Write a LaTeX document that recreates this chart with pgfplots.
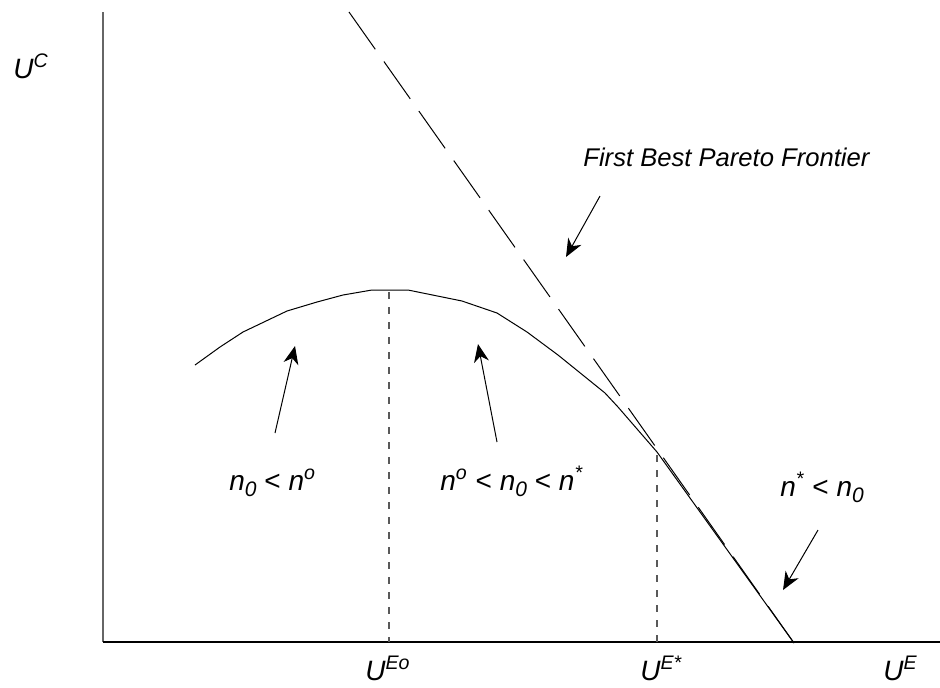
\documentclass[border=0pt]{standalone}
\usepackage{fontspec}
\setmainfont{Liberation Sans}
\usepackage{pgfplots}
\pgfplotsset{compat=1.18}
\usetikzlibrary{arrows.meta}

% lowered, slightly larger subscript for the n_0 labels
\newcommand{\sub}[1]{\raisebox{-0.42ex}{\fontsize{10.5}{12}\selectfont #1}}

\begin{document}
\begin{tikzpicture}[
  lbl/.style={font=\fontsize{14}{16}\selectfont\itshape, anchor=base west, inner sep=0pt},
  pointer/.style={line width=0.5pt, -{Stealth[length=9pt,width=7.5pt,inset=2.8pt]}},
]
\begin{axis}[
  name=pic,
  scale only axis, width=470pt, height=343.5pt,
  xmin=0, xmax=940, ymin=0, ymax=687, y dir=reverse,
  hide axis, clip=false,
]
% axes
\addplot[gray!80!black, line width=0.8pt] coordinates {(103,12) (103,642)};
\addplot[black, line width=0.6pt] coordinates {(103,642) (940,642)};

% first best Pareto frontier
\addplot[black, line width=0.5pt, dash pattern=on 22.8pt off 7.5pt]
  coordinates {(349,12) (794,643)};

% second best frontier
\addplot[black, line width=0.5pt] coordinates {
  (195,365) (220,347) (243,332) (287,311) (317,302) (343,295)
  (372,290) (408,290) (462,301) (497,313) (527,332) (558,355)
  (605,393) (618,407) (657,452) (794,643)};

% reference drops
\addplot[gray!70!black, line width=0.6pt, dash pattern=on 3.5pt off 4pt]
  coordinates {(389,292) (389,642)};
\addplot[gray!70!black, line width=0.6pt, dash pattern=on 3.5pt off 4pt]
  coordinates {(657,455) (657,642)};

% pointers
\addplot[pointer] coordinates {(600,196) (566,257)};
\addplot[pointer] coordinates {(275,433) (295,346)};
\addplot[pointer] coordinates {(497,442) (478,344)};
\addplot[pointer] coordinates {(818,530) (783,590)};

% labels
\node[lbl] at (axis cs:13,78) {U\textsuperscript{C}};
\node[lbl, font=\fontsize{12.8}{15}\selectfont\itshape] at (axis cs:583,166) {First Best Pareto Frontier};
\node[lbl] at (axis cs:229,490) {n\sub{0} {\upshape<} n\textsuperscript{o}};
\node[lbl] at (axis cs:440,490) {n\textsuperscript{o} {\upshape<} n\sub{0} {\upshape<} n\textsuperscript{*}};
\node[lbl] at (axis cs:780,496) {n\textsuperscript{*} {\upshape<} n\sub{0}};
\node[lbl] at (axis cs:365,680) {U\textsuperscript{Eo}};
\node[lbl] at (axis cs:640,680) {U\textsuperscript{E*}};
\node[lbl] at (axis cs:883,680) {U\textsuperscript{E}};
\end{axis}
\pgfresetboundingbox
\useasboundingbox (pic.south west) rectangle (pic.north east);
\end{tikzpicture}
\end{document}
